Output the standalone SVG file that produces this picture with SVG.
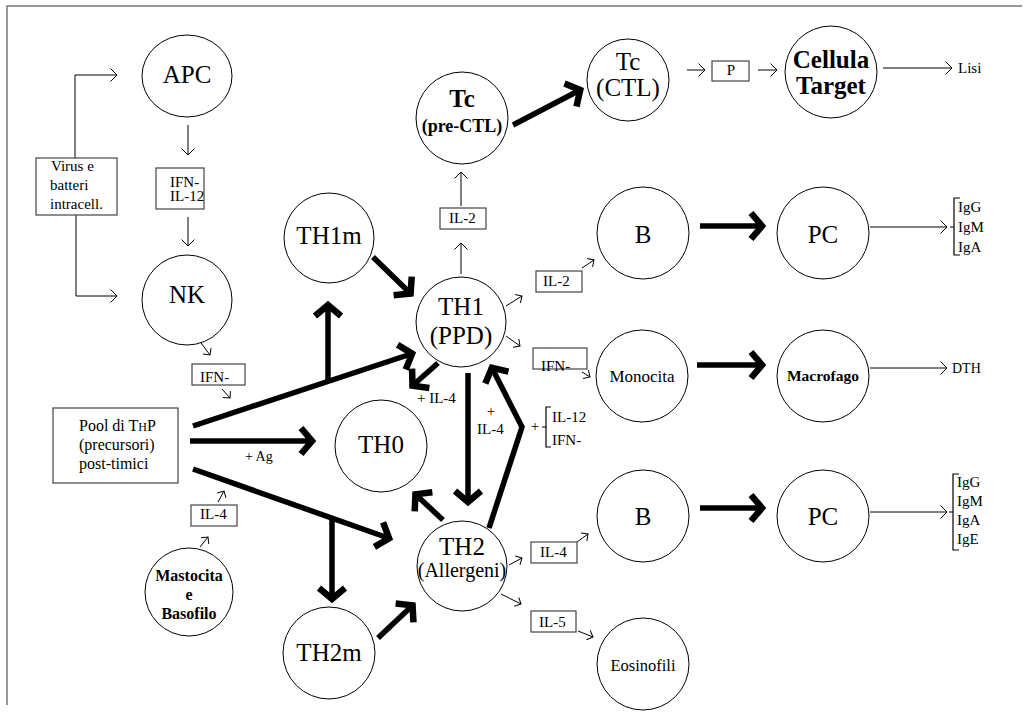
<svg xmlns="http://www.w3.org/2000/svg" width="1031" height="715" viewBox="0 0 1031 715" font-family="'Liberation Serif', serif">
  <style>
    text { font-family: 'Liberation Serif', 'DejaVu Serif', serif; fill: #000; }
    .node { fill: #fff; stroke: #000; stroke-width: 1; }
    .box { fill: #fff; stroke: #444; stroke-width: 1.2; }
    .lbl { font-size: 25px; text-anchor: middle; }
    .bold { font-weight: bold; }
    .small { font-size: 15px; }
    .thin { fill: none; stroke: #000; stroke-width: 1; marker-end: url(#open); }
    .tiny { fill: none; stroke: #000; stroke-width: 1; marker-end: url(#openSmall); }
    .thick { fill: none; stroke: #000; stroke-width: 5.5; stroke-linejoin: miter; marker-end: url(#heavy); }
    .brk { fill: none; stroke: #000; stroke-width: 1.2; }
  </style>
  <defs>
    <marker id="open" viewBox="-10 -10 20 20" markerWidth="20" markerHeight="20" markerUnits="userSpaceOnUse" refX="0" refY="0" orient="auto">
      <path d="M-6.5,-6.5 L0,0 L-6.5,6.5" fill="none" stroke="#000" stroke-width="1"/>
    </marker>
    <marker id="openSmall" viewBox="-10 -10 20 20" markerWidth="20" markerHeight="20" markerUnits="userSpaceOnUse" refX="0" refY="0" orient="auto">
      <path d="M-5,-5 L0,0 L-5,5" fill="none" stroke="#000" stroke-width="1"/>
    </marker>
    <marker id="heavy" viewBox="-24 -24 48 48" markerWidth="48" markerHeight="48" markerUnits="userSpaceOnUse" refX="0" refY="0" orient="auto">
      <path d="M-13,-13 L-2,0 L-13,13" fill="none" stroke="#000" stroke-width="6.5" stroke-linejoin="miter" stroke-miterlimit="10"/>
    </marker>
  </defs>

  <rect width="1031" height="715" fill="#fff"/>
  <!-- page frame -->
  <path d="M7,705 V6 H1022" fill="none" stroke="#777" stroke-width="1.5"/>

  <!-- connectors -->
  <g id="connectors">
    <path class="thin" d="M75,158 V75 H117"/>
    <path class="thin" d="M76,215 V296 H117"/>
    <path class="thin" d="M188,125 V155"/>
    <path class="thin" d="M188,217 V246"/>
    <path class="tiny" d="M201,343 L210,355"/>
    <path class="tiny" d="M222,389 L230,398"/>
    <path class="tiny" d="M218,502 L224,491"/>
    <path class="tiny" d="M200,547 L208,537"/>
    <path class="thin" d="M461,274 V243"/>
    <path class="thin" d="M461,206 V172"/>
    <path class="tiny" d="M506,306 L522,296"/>
    <path class="tiny" d="M582,268 L594,260"/>
    <path class="tiny" d="M506,336 L520,346"/>
    <path class="tiny" d="M582,372 L590,377"/>
    <path class="tiny" d="M509,565 L522,558"/>
    <path class="tiny" d="M577,542 L588,534"/>
    <path class="tiny" d="M501,594 L521,604"/>
    <path class="tiny" d="M578,631 L593,637"/>
    <path class="thin" d="M687,70 H705"/>
    <path class="thin" d="M758,70 H777"/>
    <path class="thin" d="M883,68 H952"/>
    <path class="thin" d="M870,227 H947"/>
    <path class="thin" d="M870,368 H947"/>
    <path class="thin" d="M870,512 H947"/>

    <path class="thick" d="M513,125 L582,89"/>
    <path class="thick" d="M700,226 L764,226"/>
    <path class="thick" d="M697,365 L764,365"/>
    <path class="thick" d="M700,508 L764,508"/>
    <path class="thick" d="M373,257 L412,295"/>
    <path class="thick" d="M193,426 L414,353"/>
    <path class="thick" d="M190,441 L314,441"/>
    <path class="thick" d="M193,469 L391,539"/>
    <path class="thick" d="M328,380 V303"/>
    <path class="thick" d="M332,519 V601"/>
    <path class="thick" d="M378,638 L414,604"/>
    <path class="thick" d="M438,363 L411,387"/>
    <path class="thick" d="M468,373 V504"/>
    <path class="thick" d="M443,520 L414,493"/>
    <path class="thick" d="M489,528 L522,427 L491,366"/>

    <!-- brackets -->
    <path class="brk" d="M960,198 H954 V255 H960 M950,227 H954"/>
    <path class="brk" d="M959,474 H953 V550 H959 M949,512 H953"/>
    <path class="brk" d="M551,407 H546 V447 H551 M542,427 H546"/>
  </g>

  <!-- boxes -->
  <g id="virus">
    <rect class="box" x="36" y="158" width="81" height="57"/>
    <text class="small" x="51" y="171">Virus e</text>
    <text class="small" x="50" y="190">batteri</text>
    <text class="small" x="50" y="209">intracell.</text>
  </g>
  <g id="ifn-il12">
    <rect class="box" x="156" y="168" width="48" height="41"/>
    <text class="small" x="170" y="187">IFN-</text>
    <text class="small" x="170" y="201">IL-12</text>
  </g>
  <g id="pool">
    <rect class="box" x="53" y="408" width="125" height="75"/>
    <text x="79" y="431" font-size="16">Pool di T<tspan font-size="12">H</tspan>P</text>
    <text x="79" y="450" font-size="16">(precursori)</text>
    <text x="79" y="469" font-size="16">post-timici</text>
  </g>
  <g id="ifn-nk">
    <rect class="box" x="192" y="364" width="53" height="21"/>
    <text class="small" x="200" y="382">IFN-</text>
  </g>
  <g id="il4-mast">
    <rect class="box" x="191" y="505" width="46" height="21"/>
    <text class="small" x="200" y="519">IL-4</text>
  </g>
  <g id="il2-tc">
    <rect class="box" x="440" y="208" width="46" height="21"/>
    <text class="small" x="449" y="223">IL-2</text>
  </g>
  <g id="il2-b">
    <rect class="box" x="536" y="271" width="46" height="21"/>
    <text class="small" x="543" y="286">IL-2</text>
  </g>
  <g id="ifn-mono">
    <rect class="box" x="533" y="348" width="54" height="21"/>
    <text class="small" x="541" y="371">IFN-</text>
  </g>
  <g id="il4-b">
    <rect class="box" x="531" y="542" width="46" height="21"/>
    <text class="small" x="540" y="557">IL-4</text>
  </g>
  <g id="il5">
    <rect class="box" x="531" y="611" width="45" height="21"/>
    <text class="small" x="539" y="627">IL-5</text>
  </g>
  <g id="perforin">
    <rect class="box" x="712" y="61" width="37" height="20"/>
    <text class="small" x="731" y="75" text-anchor="middle">P</text>
  </g>

  <!-- free labels -->
  <g id="labels">
    <text class="small" x="417" y="403">+ IL-4</text>
    <text class="small" x="491" y="416" text-anchor="middle">+</text>
    <text class="small" x="477" y="434">IL-4</text>
    <text class="small" x="535" y="431" text-anchor="middle">+</text>
    <text class="small" x="552" y="422">IL-12</text>
    <text class="small" x="552" y="445">IFN-</text>
    <text x="245" y="461" font-size="14">+ Ag</text>
    <text class="small" x="958" y="73">Lisi</text>
    <text x="952" y="373" font-size="14">DTH</text>
    <text class="small" x="958" y="212">IgG</text>
    <text class="small" x="958" y="232">IgM</text>
    <text class="small" x="958" y="252">IgA</text>
    <text class="small" x="957" y="487">IgG</text>
    <text class="small" x="957" y="506">IgM</text>
    <text class="small" x="957" y="525">IgA</text>
    <text class="small" x="957" y="544">IgE</text>
  </g>

  <!-- cells -->
  <g id="apc">
    <ellipse class="node" cx="187" cy="76" rx="45" ry="41"/>
    <text class="lbl" x="187" y="83">APC</text>
  </g>
  <g id="nk">
    <circle class="node" cx="187" cy="300" r="45"/>
    <text class="lbl" x="187" y="303">NK</text>
  </g>
  <g id="tc-pre">
    <circle class="node" cx="462" cy="118" r="46"/>
    <text class="lbl bold" x="462" y="107" font-size="24">Tc</text>
    <text class="bold" x="462" y="132" font-size="18" text-anchor="middle">(pre-CTL)</text>
  </g>
  <g id="tc-ctl">
    <circle class="node" cx="628" cy="80" r="41"/>
    <text class="lbl" x="628" y="70">Tc</text>
    <text class="lbl" x="628" y="96" font-size="23">(CTL)</text>
  </g>
  <g id="target">
    <circle class="node" cx="831" cy="72" r="46"/>
    <text class="lbl bold" x="831" y="68" font-size="24">Cellula</text>
    <text class="lbl bold" x="831" y="94" font-size="24">Target</text>
  </g>
  <g id="th1m">
    <circle class="node" cx="329" cy="238" r="45"/>
    <text class="lbl" x="329" y="244">TH1m</text>
  </g>
  <g id="th1">
    <circle class="node" cx="461" cy="322" r="45"/>
    <text class="lbl" x="461" y="315">TH1</text>
    <text class="lbl" x="461" y="344" font-size="23">(PPD)</text>
  </g>
  <g id="b1">
    <circle class="node" cx="643" cy="233" r="46"/>
    <text class="lbl" x="643" y="243" font-size="24">B</text>
  </g>
  <g id="pc1">
    <circle class="node" cx="823" cy="233" r="46"/>
    <text class="lbl" x="823" y="243" font-size="24">PC</text>
  </g>
  <g id="monocita">
    <circle class="node" cx="642" cy="376" r="46"/>
    <text x="642" y="382" font-size="17" text-anchor="middle">Monocita</text>
  </g>
  <g id="macrofago">
    <circle class="node" cx="823" cy="376" r="46"/>
    <text class="bold" x="823" y="381" font-size="15.5" text-anchor="middle">Macrofago</text>
  </g>
  <g id="th0">
    <circle class="node" cx="381" cy="446" r="46"/>
    <text class="lbl" x="381" y="453">TH0</text>
  </g>
  <g id="th2">
    <circle class="node" cx="462" cy="566" r="45"/>
    <text class="lbl" x="462" y="555">TH2</text>
    <text x="462" y="577" font-size="20" text-anchor="middle">(Allergeni)</text>
  </g>
  <g id="b2">
    <circle class="node" cx="643" cy="516" r="46"/>
    <text class="lbl" x="643" y="525" font-size="24">B</text>
  </g>
  <g id="pc2">
    <circle class="node" cx="823" cy="516" r="46"/>
    <text class="lbl" x="823" y="525" font-size="24">PC</text>
  </g>
  <g id="eosinofili">
    <circle class="node" cx="643" cy="664" r="46"/>
    <text x="643" y="671" font-size="16.5" text-anchor="middle">Eosinofili</text>
  </g>
  <g id="mastocita">
    <circle class="node" cx="189" cy="592" r="44"/>
    <text class="bold" x="189" y="581" font-size="16" text-anchor="middle">Mastocita</text>
    <text class="bold" x="189" y="600" font-size="16" text-anchor="middle">e</text>
    <text class="bold" x="189" y="619" font-size="16" text-anchor="middle">Basofilo</text>
  </g>
  <g id="th2m">
    <circle class="node" cx="329" cy="653" r="46"/>
    <text class="lbl" x="329" y="661">TH2m</text>
  </g>
</svg>
